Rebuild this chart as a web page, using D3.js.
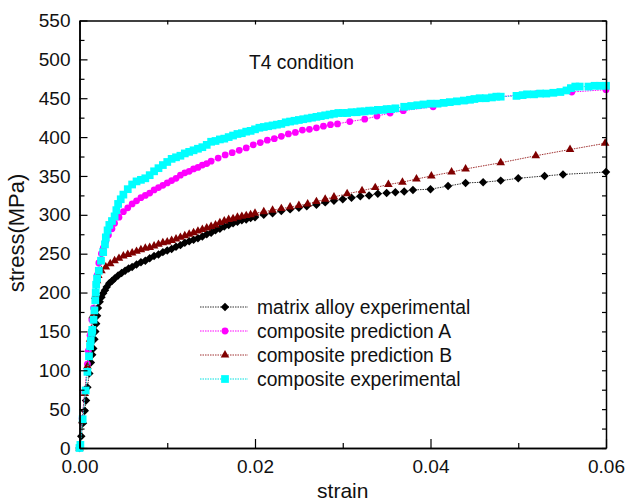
<!DOCTYPE html>
<html>
<head>
<meta charset="utf-8">
<script src="https://cdn.jsdelivr.net/npm/d3@7"></script>
<style>
  body { margin: 0; background: #fff; }
  svg { display: block; font-family: "Liberation Sans", Arial, Helvetica, sans-serif; }
</style>
</head>
<body>
<div class="vis-chart"></div>
<script>
// strain / stress(MPa) pairs
const matrixAlloy = [
  [0,0],[0.0002,15],[0.0004,32],[0.0006,48],[0.00074,61],[0.0009,78],[0.00112,96],[0.0013,110],
  [0.00145,120],[0.00157,128],[0.0017,140],[0.0018,150],[0.0019,160],[0.002,170],[0.0021,180],
  [0.0023,188],[0.0025,194],[0.0027,199],[0.0029,203],[0.0031,207],[0.0034,212],[0.0037,215],
  [0.004,218],[0.0044,222],[0.0048,225],[0.0052,228],[0.0056,231],[0.006,233],[0.0065,236],
  [0.007,239],[0.0075,241],[0.008,244],[0.0085,247],[0.009,249],[0.0095,252],[0.010,254],
  [0.0105,256],[0.011,259],[0.0115,261],[0.012,264],[0.0125,266],[0.013,268],[0.0135,270],
  [0.014,272],[0.0145,275],[0.015,277],[0.0155,280],[0.016,282],[0.0165,285],[0.017,287],
  [0.0175,289],[0.018,291],[0.0185,293],[0.019,294],[0.0195,296],[0.020,297],[0.021,300],
  [0.022,302],[0.023,305],[0.024,307],[0.025,309],[0.0259,311],[0.027,313],[0.028,316],
  [0.029,318],[0.030,320],[0.031,322],[0.032,324],[0.033,325],[0.034,327],[0.035,328],
  [0.036,329],[0.037,330],[0.038,332],[0.040,333],[0.042,337],[0.044,341],[0.046,342],
  [0.048,344],[0.050,347],[0.053,350],[0.0551,352],[0.060,355]
];
const predictionA = [
  [0,0],[0.0003,38],[0.0006,72],[0.0009,108],[0.001,125],[0.0012,145],[0.0014,165],[0.0016,180],
  [0.0018,196],[0.0019,210],[0.002,222],[0.0022,238],[0.0025,250],[0.0027,257],[0.003,266],
  [0.0033,274],[0.0037,282],[0.004,289],[0.0045,297],[0.005,304],[0.0055,309],[0.006,314],
  [0.0065,318],[0.007,322],[0.0075,325],[0.008,328],[0.0085,332],[0.009,335],[0.0095,338],
  [0.010,341],[0.0105,344],[0.011,347],[0.0115,351],[0.012,354],[0.0125,356],[0.013,359],
  [0.0135,361],[0.014,364],[0.0145,366],[0.015,369],[0.0158,373],[0.0166,377],[0.0174,380],
  [0.0182,383],[0.019,386],[0.0198,390],[0.0206,393],[0.0214,396],[0.0222,398],[0.023,401],
  [0.0238,404],[0.0246,406],[0.0254,409],[0.0262,410],[0.027,412],[0.0278,414],[0.0286,416],
  [0.0294,417],[0.0308,420],[0.0325,423],[0.0339,427],[0.0354,431],[0.0369,434],[0.0403,439],
  [0.0441,447],[0.0479,452],[0.0521,456],[0.0561,458],[0.060,461]
];
const predictionB = [
  [0,0],[0.0003,35],[0.0006,70],[0.0009,105],[0.0012,140],[0.0015,170],[0.0018,195],[0.002,215],
  [0.00214,222],[0.0025,228],[0.003,233],[0.0035,237],[0.004,241],[0.0045,244],[0.005,247],
  [0.0055,249],[0.006,251],[0.0065,253],[0.007,255],[0.0075,257],[0.008,258],[0.0085,260],
  [0.009,262],[0.0095,264],[0.010,265],[0.0105,267],[0.011,269],[0.0115,271],[0.012,273],
  [0.0125,275],[0.013,277],[0.0135,279],[0.014,281],[0.0145,283],[0.015,285],[0.0155,287],
  [0.016,290],[0.0165,292],[0.017,294],[0.0175,295],[0.018,297],[0.0185,298],[0.019,299],
  [0.0195,300],[0.020,302],[0.021,304],[0.022,306],[0.023,308],[0.024,310],[0.025,312],
  [0.026,314],[0.027,317],[0.028,320],[0.029,323],[0.0305,327],[0.0322,331],[0.0337,335],
  [0.0352,339],[0.0368,342],[0.0384,346],[0.0401,350],[0.0424,355],[0.044,359],[0.048,367],
  [0.052,376],[0.0559,384],[0.0599,392]
];
const compositeExp = [
  [0,0],[0.0001,4],[0.00036,37],[0.0007,74],[0.0009,98],[0.00108,118],[0.0012,131],[0.00128,138],
  [0.0014,148],[0.00146,152],[0.0016,165],[0.0017,177],[0.0018,190],[0.00185,200],[0.0019,210],
  [0.002,218],[0.0022,228],[0.00245,241],[0.0027,252],[0.0029,262],[0.003,271],[0.0032,280],
  [0.0034,287],[0.0037,292],[0.004,298],[0.0042,306],[0.0044,314],[0.0047,320],[0.005,326],
  [0.0055,333],[0.006,339],[0.0065,343],[0.007,345],[0.0075,347],[0.008,351],[0.0085,356],
  [0.009,360],[0.0095,364],[0.010,368],[0.0105,372],[0.011,374],[0.0115,376],[0.012,379],
  [0.0125,381],[0.013,383],[0.0135,385],[0.014,387],[0.0145,390],[0.015,394],[0.0155,395],
  [0.016,397],[0.0165,398],[0.017,400],[0.0175,402],[0.018,404],[0.0185,405],[0.019,407],
  [0.0195,408],[0.020,410],[0.0205,412],[0.021,413],[0.0215,414],[0.022,415],[0.0225,416],
  [0.023,417],[0.0235,419],[0.024,420],[0.0245,421],[0.025,422],[0.0255,423],[0.026,424],
  [0.0265,425],[0.027,426],[0.0275,427],[0.028,428],[0.0285,429],[0.029,430],[0.0295,431],
  [0.030,431],[0.0305,431],[0.031,432],[0.0316,432],[0.032,433],[0.0325,433],[0.033,434],
  [0.0335,434],[0.034,435],[0.0346,435],[0.035,436],[0.0355,436],[0.036,437],[0.037,439],
  [0.0378,440],[0.0385,441],[0.0392,442],[0.040,443],[0.0408,443],[0.0415,444],[0.0422,445],
  [0.043,446],[0.0438,447],[0.0445,448],[0.045,449],[0.0456,450],[0.0463,450],[0.047,451],
  [0.0475,452],[0.048,452],[0.0498,453],[0.0505,454],[0.051,455],[0.0518,455],[0.0525,456],
  [0.0532,456],[0.054,457],[0.0548,458],[0.0555,460],[0.056,463],[0.0565,465],[0.057,465],
  [0.058,465],[0.0587,466],[0.0593,466],[0.060,466]
];

const seriesNames = ["matrix alloy experimental", "composite prediction A", "composite prediction B", "composite experimental"];
const xMajorTicks = [0, 0.02, 0.04, 0.06];
const xMinorTicks = [0.01, 0.03, 0.05];
const yMajorTicks = [0, 50, 100, 150, 200, 250, 300, 350, 400, 450, 500, 550];
const yMinorTicks = [25, 75, 125, 175, 225, 275, 325, 375, 425, 475, 525];

const width = 627, height = 502;
const margin = { top: 20.5, right: 21, bottom: 54, left: 79.5 };

const x = d3.scaleLinear().domain([0, 0.06]).range([margin.left, width - margin.right]);
const y = d3.scaleLinear().domain([0, 550]).range([height - margin.bottom, margin.top]);

const series = [
  { name: seriesNames[0], data: matrixAlloy, color: "#000000", line: "#333", symbol: "diamond" },
  { name: seriesNames[1], data: predictionA, color: "#ff00ff", line: "#ff00ff", symbol: "circle" },
  { name: seriesNames[2], data: predictionB, color: "#800000", line: "#a03030", symbol: "triangle" },
  { name: seriesNames[3], data: compositeExp, color: "#00ffff", line: "#00e0e0", symbol: "square" }
];

const symbolPath = {
  diamond: d3.symbol(d3.symbolSquare, 36)(),
  circle: d3.symbol(d3.symbolCircle, 36)(),
  triangle: d3.symbol(d3.symbolTriangle, 32)(),
  square: d3.symbol(d3.symbolSquare, 60)()
};
const symbolRotate = { diamond: 45, circle: 0, triangle: 0, square: 0 };

const svg = d3.select('.vis-chart')
  .append('svg')
  .attr('width', width)
  .attr('height', height);

// curves
const line = d3.line().x(d => x(d[0])).y(d => y(d[1]));

series.forEach(s => {
  const g = svg.append('g').attr('class', 'series');
  g.append('path')
    .datum(s.data)
    .attr('d', line)
    .attr('fill', 'none')
    .attr('stroke', s.line)
    .attr('stroke-width', 1)
    .attr('stroke-dasharray', '1.5,1');
  g.selectAll('path.mark')
    .data(s.data)
    .enter()
    .append('path')
    .attr('class', 'mark')
    .attr('d', symbolPath[s.symbol])
    .attr('transform', d => `translate(${x(d[0])},${y(d[1])}) rotate(${symbolRotate[s.symbol]})`)
    .attr('fill', s.color);
});

// axes, ticks pointing inward
const axisStyle = g => {
  g.selectAll('.domain').attr('stroke', '#000').attr('stroke-width', 1.5);
  g.selectAll('.tick line').attr('stroke', '#000').attr('stroke-width', 1.2);
  g.selectAll('.tick text').attr('font-size', 19).attr('fill', '#111').attr('font-family', null);
};
const bottomY = height - margin.bottom, rightX = width - margin.right;

svg.append('g').attr('transform', `translate(0,${bottomY})`)
  .call(d3.axisBottom(x).tickValues(xMajorTicks).tickFormat(d3.format('.2f')).tickSize(-9).tickSizeOuter(0).tickPadding(12))
  .call(axisStyle);
svg.append('g').attr('transform', `translate(0,${bottomY})`)
  .call(d3.axisBottom(x).tickValues(xMinorTicks).tickFormat('').tickSize(-5).tickSizeOuter(0))
  .call(axisStyle);
svg.append('g').attr('transform', `translate(0,${margin.top})`)
  .call(d3.axisTop(x).tickValues(xMajorTicks.concat(xMinorTicks)).tickFormat('').tickSize(-4).tickSizeOuter(0))
  .call(axisStyle);

svg.append('g').attr('transform', `translate(${margin.left},0)`)
  .call(d3.axisLeft(y).tickValues(yMajorTicks).tickSize(-8).tickSizeOuter(0).tickPadding(9))
  .call(axisStyle);
svg.append('g').attr('transform', `translate(${margin.left},0)`)
  .call(d3.axisLeft(y).tickValues(yMinorTicks).tickFormat('').tickSize(-5).tickSizeOuter(0))
  .call(axisStyle);
svg.append('g').attr('transform', `translate(${rightX},0)`)
  .call(d3.axisRight(y).tickValues(yMajorTicks.concat(yMinorTicks)).tickFormat('').tickSize(-4).tickSizeOuter(0))
  .call(axisStyle);

// axis titles
svg.append('text')
  .attr('x', (margin.left + rightX) / 2)
  .attr('y', 498)
  .attr('text-anchor', 'middle')
  .attr('font-size', 21)
  .attr('fill', '#111')
  .text('strain');
svg.append('text')
  .attr('transform', 'translate(24,233) rotate(-90)')
  .attr('text-anchor', 'middle')
  .attr('font-size', 22)
  .attr('fill', '#111')
  .text('stress(MPa)');

svg.append('text')
  .attr('x', 249)
  .attr('y', 69)
  .attr('font-size', 19.3)
  .attr('fill', '#111')
  .text('T4 condition');

// legend
const legend = svg.append('g').attr('transform', 'translate(200,307)');
const legendRows = legend.selectAll('g')
  .data(series)
  .enter()
  .append('g')
  .attr('transform', (d, i) => `translate(0,${i * 24})`);
legendRows.append('line')
  .attr('x1', 0).attr('x2', 48)
  .attr('stroke', d => d.line)
  .attr('stroke-width', 1)
  .attr('stroke-dasharray', '1.5,1');
legendRows.append('path')
  .attr('d', d => symbolPath[d.symbol])
  .attr('transform', d => `translate(25,0) rotate(${symbolRotate[d.symbol]})`)
  .attr('fill', d => d.color);
legendRows.append('text')
  .attr('x', 57)
  .attr('dy', '0.35em')
  .attr('font-size', 19.3)
  .attr('fill', '#111')
  .text(d => d.name);
</script>
</body>
</html>
